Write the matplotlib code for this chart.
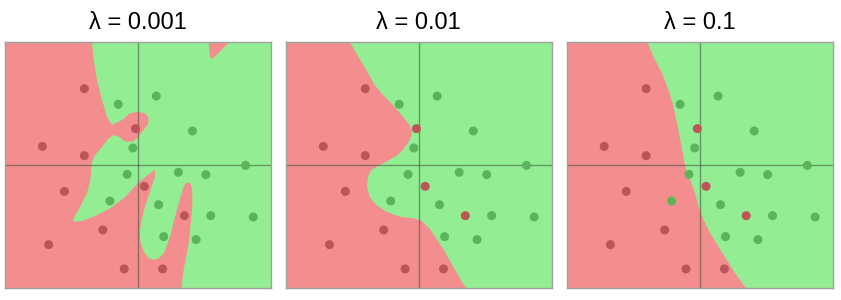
import matplotlib
matplotlib.use("Agg")
import matplotlib.pyplot as plt

plt.rcParams['font.family'] = ['Liberation Sans', 'DejaVu Sans']

titles = ["λ = 0.001", "λ = 0.01", "λ = 0.1"]

red_x = [-0.403, -0.719, -0.403, -0.018, -0.553, 0.048, -0.264, -0.672, 0.350, -0.103, 0.186]
red_y = [0.619, 0.151, 0.076, 0.295, -0.214, -0.173, -0.527, -0.646, -0.411, -0.843, -0.843]
green_x = [-0.148, 0.138, 0.410, -0.038, -0.081, 0.304, 0.511, 0.810, -0.211, 0.156, 0.548, 0.868, 0.194, 0.438]
green_y = [0.492, 0.559, 0.276, 0.138, -0.076, -0.059, -0.078, -0.003, -0.292, -0.322, -0.411, -0.422, -0.581, -0.605]

# decision boundary (red side on the left), traced from top edge to bottom edge
b1_x = [-0.346, -0.333, -0.308, -0.270, -0.233, -0.195, -0.160, -0.119, -0.069, -0.006, 0.057, 0.082,
        0.074, 0.031, -0.006, -0.044, -0.094, -0.145, -0.182, -0.220, -0.270, -0.321, -0.346, -0.350,
        -0.358, -0.384, -0.434, -0.484, -0.484, -0.420, -0.333, -0.208, -0.094, 0.006, 0.082, 0.125,
        0.132, 0.107, 0.082, 0.057, 0.031, 0.014, 0.019, 0.044, 0.082, 0.119, 0.157, 0.195, 0.220,
        0.245, 0.270, 0.296, 0.321, 0.346, 0.371, 0.396, 0.409, 0.409, 0.396, 0.384, 0.366, 0.346,
        0.333, 0.328]
b1_y = [1.0, 0.852, 0.689, 0.527, 0.392, 0.324, 0.345, 0.365, 0.414, 0.433, 0.419, 0.379,
        0.324, 0.270, 0.216, 0.189, 0.189, 0.230, 0.243, 0.216, 0.149, 0.081, 0.027, -0.030,
        -0.122, -0.230, -0.338, -0.432, -0.460, -0.455, -0.419, -0.351, -0.257, -0.140, -0.075, -0.041,
        -0.081, -0.162, -0.243, -0.324, -0.432, -0.541, -0.622, -0.703, -0.757, -0.770, -0.757, -0.716, -0.649,
        -0.568, -0.459, -0.351, -0.257, -0.168, -0.141, -0.149, -0.203, -0.351, -0.486, -0.622, -0.730, -0.838,
        -0.946, -1.0]
patch1_x = [0.534, 0.693, 0.562, 0.547, 0.536]
patch1_y = [1.0, 1.0, 0.862, 0.865, 0.930]

b2_x = [-0.520, -0.470, -0.395, -0.332, -0.270, -0.195, -0.120, -0.070, -0.050, -0.057, -0.083, -0.120,
        -0.170, -0.245, -0.308, -0.357, -0.383, -0.390, -0.370, -0.320, -0.245, -0.145, -0.045, 0.018,
        0.080, 0.130, 0.180, 0.230, 0.281, 0.330, 0.362]
b2_y = [1.0, 0.906, 0.770, 0.649, 0.568, 0.487, 0.392, 0.324, 0.270, 0.230, 0.176, 0.122,
        0.073, 0.027, -0.008, -0.041, -0.095, -0.176, -0.257, -0.324, -0.379, -0.419, -0.432, -0.451,
        -0.513, -0.594, -0.675, -0.770, -0.865, -0.959, -1.0]

b3_x = [-0.396, -0.347, -0.284, -0.234, -0.197, -0.171, -0.146, -0.126, -0.109, -0.071, -0.034, -0.009,
        0.029, 0.079, 0.141, 0.204, 0.266, 0.350]
b3_y = [1.0, 0.878, 0.743, 0.608, 0.473, 0.338, 0.203, 0.095, -0.014, -0.122, -0.230, -0.338,
        -0.446, -0.554, -0.662, -0.770, -0.878, -1.0]

boundaries = [(b1_x, b1_y), (b2_x, b2_y), (b3_x, b3_y)]
extra_patches = [[(patch1_x, patch1_y)], [], []]

RED_BG = '#f48e8e'
GREEN_BG = '#93ee93'
RED_PT = '#bb5556'
GREEN_PT = '#5ab55a'

fig = plt.figure(figsize=(8.41, 3.0), dpi=100)
lefts = [0.006, 0.340, 0.674]
for i in range(3):
    ax = fig.add_axes([lefts[i], 0.039, 0.316, 0.822])
    ax.set_xlim(-1, 1)
    ax.set_ylim(-1, 1)
    ax.set_facecolor(GREEN_BG)
    bx, by = boundaries[i]
    px = [-1] + bx + [-1]
    py = [1] + by + [-1]
    ax.fill(px, py, color=RED_BG, lw=0, zorder=1)
    for (qx, qy) in extra_patches[i]:
        ax.fill(qx, qy, color=RED_BG, lw=0, zorder=1)
    ax.axhline(0, color='#3c4a3c', alpha=0.55, lw=1.0, zorder=2)
    ax.axvline(0, color='#3c4a3c', alpha=0.55, lw=1.0, zorder=2)
    ax.scatter(red_x, red_y, s=42, color=RED_PT, edgecolors='none', zorder=3)
    ax.scatter(green_x, green_y, s=42, color=GREEN_PT, edgecolors='none', zorder=3)
    ax.set_xticks([])
    ax.set_yticks([])
    for sp in ax.spines.values():
        sp.set_color('#a0a0a0')
        sp.set_linewidth(1.0)
    ax.set_title(titles[i], fontsize=17, pad=9)

fig.savefig('out.png', dpi=100, facecolor='white')
